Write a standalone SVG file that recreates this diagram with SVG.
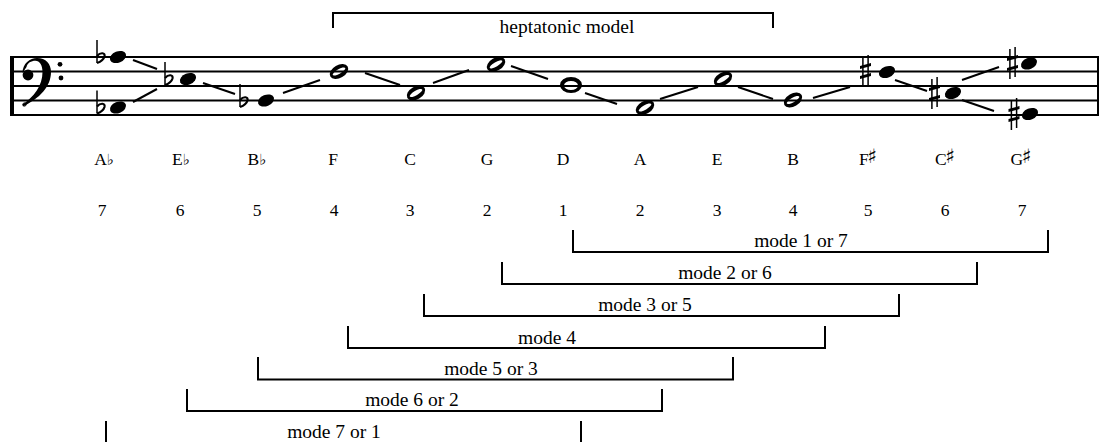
<svg xmlns="http://www.w3.org/2000/svg" xmlns:xlink="http://www.w3.org/1999/xlink" width="1102" height="442" viewBox="0 0 1102 442">
  <style>
    .staff { stroke: #000; stroke-width: 2.2; fill: none; }
    .link { stroke: #000; stroke-width: 2; fill: none; }
    .bracket { stroke: #000; stroke-width: 2; fill: none; }
    .label { font-family: "Liberation Serif", "Times New Roman", serif; font-size: 17.5px; fill: #000; text-anchor: middle; }
    .acc { font-family: "DejaVu Serif", "DejaVu Sans", serif; }
    .mode { font-family: "Liberation Serif", "Times New Roman", serif; font-size: 19.5px; fill: #000; text-anchor: middle; }
  </style>
  <defs>
    <!-- filled (quarter-style) note head -->
    <ellipse id="blackhead" cx="0" cy="0" rx="8.4" ry="5.6" transform="rotate(-22)" fill="#000"/>
    <!-- open (half-style) note head with slanted hollow -->
    <path id="openhead" fill="#000" fill-rule="evenodd" transform="rotate(-30)"
          d="M-10,0 A10,6.4 0 1,0 10,0 A10,6.4 0 1,0 -10,0 Z M-7.2,0 A7.2,2.2 0 1,0 7.2,0 A7.2,2.2 0 1,0 -7.2,0 Z"/>
    <!-- whole note head -->
    <path id="wholehead" fill="#000" fill-rule="evenodd"
          d="M-11,0 A11,8 0 1,0 11,0 A11,8 0 1,0 -11,0 Z M-7,0.5 A7,4.6 0 1,0 7,0.5 A7,4.6 0 1,0 -7,0.5 Z"/>
    <!-- flat sign, origin on the pitch line of the stem -->
    <g id="flat" stroke="#000" fill="none">
      <path d="M0,-17 V6" stroke-width="1.5"/>
      <path d="M0,-1 C3.5,-5 8.5,-4.5 7.5,-0.5 C6.5,3 3,5 0,6" stroke-width="2.2"/>
    </g>
    <!-- sharp sign, origin at its centre -->
    <g id="sharp">
      <path d="M-2.6,-14 V16 M2.6,-16 V14" stroke="#000" stroke-width="1.5"/>
      <path d="M-5.5,-5 L5.5,-8 L5.5,-5 L-5.5,-2 Z M-5.5,5 L5.5,2 L5.5,5 L-5.5,8 Z" fill="#000"/>
    </g>
  </defs>

  <!-- staff -->
  <g id="staff">
    <path class="staff" d="M10,57 H1099 M10,71.5 H1099 M10,86 H1099 M10,100.5 H1099 M10,115 H1099"/>
    <rect x="10" y="56" width="4" height="60" fill="#000"/>
    <path d="M1098,56 V116" stroke="#000" stroke-width="2"/>
  </g>

  <!-- bass clef -->
  <g id="clef">
    <path fill="#000" d="M22.5,73 C22.5,63.5 30,58 37,58 C46,58 51,64 51,72 C51,86.5 39.5,98.5 23,106.5 L22.5,104.5 C34,96.5 42.5,86 42.5,72 C42.5,65 39.5,60.8 35.5,60.8 C31,60.8 27.5,63 26.5,67 Z"/>
    <circle cx="28" cy="75" r="5.4" fill="#000"/>
    <circle cx="24.5" cy="104.5" r="1.6" fill="none" stroke="#000" stroke-width="1"/>
    <circle cx="60" cy="64.3" r="2.4" fill="#000"/>
    <circle cx="61" cy="78" r="2.4" fill="#000"/>
  </g>

  <!-- connecting strokes between the notes -->
  <g id="connectors">
    <path class="link" d="M133,60 L157,69"/>
    <path class="link" d="M133,102 L157,89"/>
    <path class="link" d="M203,83 L235,94"/>
    <path class="link" d="M283,93 L320,80"/>
    <path class="link" d="M365,73 L400,85"/>
    <path class="link" d="M433,83 L469,70"/>
    <path class="link" d="M511,66 L548,79"/>
    <path class="link" d="M585,93 L617,104"/>
    <path class="link" d="M660,99 L698,87"/>
    <path class="link" d="M738,87 L773,99"/>
    <path class="link" d="M813,98 L850,87"/>
    <path class="link" d="M895,80 L927,91"/>
    <path class="link" d="M962,80 L999,67"/>
    <path class="link" d="M962,100 L994,111"/>
  </g>

  <!-- notes -->
  <g id="note-Ab">
    <use xlink:href="#flat" href="#flat" x="97" y="57"/>
    <use xlink:href="#blackhead" href="#blackhead" x="118" y="57"/>
    <use xlink:href="#flat" href="#flat" x="97" y="107.5"/>
    <use xlink:href="#blackhead" href="#blackhead" x="118" y="107.5"/>
  </g>
  <g id="note-Eb">
    <use xlink:href="#flat" href="#flat" x="165" y="79"/>
    <use xlink:href="#blackhead" href="#blackhead" x="188" y="79"/>
  </g>
  <g id="note-Bb">
    <use xlink:href="#flat" href="#flat" x="240" y="101"/>
    <use xlink:href="#blackhead" href="#blackhead" x="266" y="100.5"/>
  </g>
  <g id="note-F"><use xlink:href="#openhead" href="#openhead" x="339" y="71.5"/></g>
  <g id="note-C"><use xlink:href="#openhead" href="#openhead" x="416" y="93"/></g>
  <g id="note-G"><use xlink:href="#openhead" href="#openhead" x="496" y="64.3"/></g>
  <g id="note-D"><use xlink:href="#wholehead" href="#wholehead" x="571" y="85"/></g>
  <g id="note-A"><use xlink:href="#openhead" href="#openhead" x="645" y="107.5"/></g>
  <g id="note-E"><use xlink:href="#openhead" href="#openhead" x="723" y="79"/></g>
  <g id="note-B"><use xlink:href="#openhead" href="#openhead" x="793" y="100"/></g>
  <g id="note-Fs">
    <use xlink:href="#sharp" href="#sharp" x="865.5" y="71"/>
    <use xlink:href="#blackhead" href="#blackhead" x="887" y="72"/>
  </g>
  <g id="note-Cs">
    <use xlink:href="#sharp" href="#sharp" x="934.5" y="93"/>
    <use xlink:href="#blackhead" href="#blackhead" x="953" y="93"/>
  </g>
  <g id="note-Gs">
    <use xlink:href="#sharp" href="#sharp" x="1012.5" y="63"/>
    <use xlink:href="#blackhead" href="#blackhead" x="1029" y="63.5"/>
    <use xlink:href="#sharp" href="#sharp" x="1014" y="114"/>
    <use xlink:href="#blackhead" href="#blackhead" x="1030" y="114"/>
  </g>

  <!-- heptatonic model bracket -->
  <g id="heptatonic">
    <path class="bracket" d="M333,28 V13 H773 V28"/>
    <text class="mode" x="567" y="33">heptatonic model</text>
  </g>

  <!-- note names -->
  <g id="names">
    <text class="label" x="104" y="165">A<tspan class="acc" font-size="15">♭</tspan></text>
    <text class="label" x="181" y="165">E<tspan class="acc" font-size="15">♭</tspan></text>
    <text class="label" x="257" y="165">B<tspan class="acc" font-size="15">♭</tspan></text>
    <text class="label" x="333" y="165">F</text>
    <text class="label" x="410" y="165">C</text>
    <text class="label" x="487" y="165">G</text>
    <text class="label" x="563" y="165">D</text>
    <text class="label" x="640" y="165">A</text>
    <text class="label" x="717" y="165">E</text>
    <text class="label" x="793" y="165">B</text>
    <text class="label" x="868" y="165">F<tspan class="acc" font-size="20" dy="-2.5" dx="-1.5">♯</tspan></text>
    <text class="label" x="945" y="165">C<tspan class="acc" font-size="20" dy="-2.5" dx="-1.5">♯</tspan></text>
    <text class="label" x="1021" y="165">G<tspan class="acc" font-size="20" dy="-2.5" dx="-1.5">♯</tspan></text>
  </g>

  <!-- scale degrees -->
  <g id="degrees">
    <text class="label" x="102" y="216">7</text>
    <text class="label" x="180" y="216">6</text>
    <text class="label" x="257" y="216">5</text>
    <text class="label" x="334" y="216">4</text>
    <text class="label" x="410" y="216">3</text>
    <text class="label" x="487" y="216">2</text>
    <text class="label" x="563" y="216">1</text>
    <text class="label" x="640" y="216">2</text>
    <text class="label" x="717" y="216">3</text>
    <text class="label" x="793" y="216">4</text>
    <text class="label" x="868" y="216">5</text>
    <text class="label" x="945" y="216">6</text>
    <text class="label" x="1022" y="216">7</text>
  </g>

  <!-- mode brackets -->
  <g id="mode-1-7">
    <path class="bracket" d="M573,230 V252 H1048 V230"/>
    <text class="mode" x="801" y="247">mode 1 or 7</text>
  </g>
  <g id="mode-2-6">
    <path class="bracket" d="M502,262 V284 H977 V262"/>
    <text class="mode" x="725" y="279">mode 2 or 6</text>
  </g>
  <g id="mode-3-5">
    <path class="bracket" d="M424,294 V316 H899 V294"/>
    <text class="mode" x="645" y="311">mode 3 or 5</text>
  </g>
  <g id="mode-4">
    <path class="bracket" d="M348,326 V348 H825 V326"/>
    <text class="mode" x="547" y="344">mode 4</text>
  </g>
  <g id="mode-5-3">
    <path class="bracket" d="M258,357 V379.5 H733 V357"/>
    <text class="mode" x="491" y="375">mode 5 or 3</text>
  </g>
  <g id="mode-6-2">
    <path class="bracket" d="M187,389 V411 H662 V389"/>
    <text class="mode" x="412" y="406">mode 6 or 2</text>
  </g>
  <g id="mode-7-1">
    <path class="bracket" d="M106,421 V443 H581 V421"/>
    <text class="mode" x="334" y="438">mode 7 or 1</text>
  </g>
</svg>
